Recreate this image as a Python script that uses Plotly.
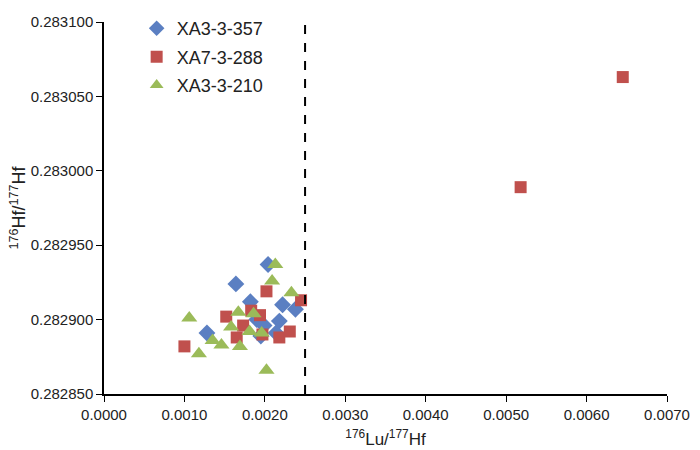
import plotly.graph_objects as go

# 176Lu/177Hf 与 176Hf/177Hf 数据
xa357_lu = [0.00204, 0.00164, 0.00182, 0.00222, 0.00238, 0.00218, 0.00128,
            0.00199, 0.00214, 0.00190, 0.00195]
xa357_hf = [0.282937, 0.282924, 0.282912, 0.282910, 0.282907, 0.282899, 0.282891,
            0.282896, 0.282891, 0.282900, 0.282889]

xa288_lu = [0.00100, 0.00152, 0.00202, 0.00245, 0.00183, 0.00194, 0.00173,
            0.00165, 0.00197, 0.00218, 0.00231, 0.00518, 0.00645]
xa288_hf = [0.282882, 0.282902, 0.282919, 0.282913, 0.282906, 0.282903, 0.282896,
            0.282888, 0.282890, 0.282888, 0.282892, 0.282989, 0.283063]

xa210_lu = [0.00213, 0.00209, 0.00233, 0.00106, 0.00167, 0.00186, 0.00158,
            0.00181, 0.00196, 0.00135, 0.00146, 0.00118, 0.00169, 0.00202]
xa210_hf = [0.282937, 0.282926, 0.282918, 0.282901, 0.282905, 0.282904, 0.282895,
            0.282892, 0.282891, 0.282886, 0.282883, 0.282877, 0.282882, 0.282866]

split_lu = 0.0025

fig = go.Figure()

series = [
    ("XA3-3-357", xa357_lu, xa357_hf, "diamond", "#5B7FC2", 13),
    ("XA7-3-288", xa288_lu, xa288_hf, "square", "#C0504D", 12),
    ("XA3-3-210", xa210_lu, xa210_hf, "triangle-up", "#9BBB59", 14),
]
for name, xd, yd, sym, col, sz in series:
    fig.add_trace(go.Scatter(
        x=xd, y=yd, name=name, mode="markers", legendgroup=name,
        marker=dict(symbol=sym, color=col, size=sz, line_width=0),
    ))

# 竖直虚线
fig.add_shape(type="line", x0=split_lu, x1=split_lu, y0=0, y1=1,
              xref="x", yref="paper",
              line=dict(color="black", width=2, dash="dash"))

fig.update_layout(
    width=700, height=450,
    margin=dict(l=104, r=33, t=10, b=56),
    paper_bgcolor="white", plot_bgcolor="white",
    font=dict(family="Liberation Sans, Arial", size=15, color="#222"),
    legend=dict(x=0.058, y=1.032, xanchor="left", yanchor="top",
                font=dict(size=18), bgcolor="rgba(0,0,0,0)",
                traceorder="grouped", tracegroupgap=2,
                itemsizing="constant"),
    xaxis=dict(
        range=[0, 0.007], dtick=0.001, tickformat=".4f",
        showgrid=False, zeroline=False, automargin=False,
        showline=True, linecolor="black", linewidth=1.5,
        ticks="outside", ticklen=6, tickcolor="black",
        title=dict(text="<sup>176</sup>Lu/<sup>177</sup>Hf", font=dict(size=17), standoff=11),
    ),
    yaxis=dict(
        range=[0.28285, 0.2831], dtick=0.00005, tickformat=".6f",
        showgrid=False, zeroline=False, automargin=False,
        showline=True, linecolor="black", linewidth=1.5,
        ticks="outside", ticklen=6, tickcolor="black",
        title=dict(text="<sup>176</sup>Hf/<sup>177</sup>Hf", font=dict(size=18), standoff=0),
    ),
)

# 去掉页面默认边距，使图正好贴合窗口
fig.write_html("out.html", config={"displayModeBar": False},
               post_script="document.body.style.margin='0';document.body.style.overflow='hidden';")
